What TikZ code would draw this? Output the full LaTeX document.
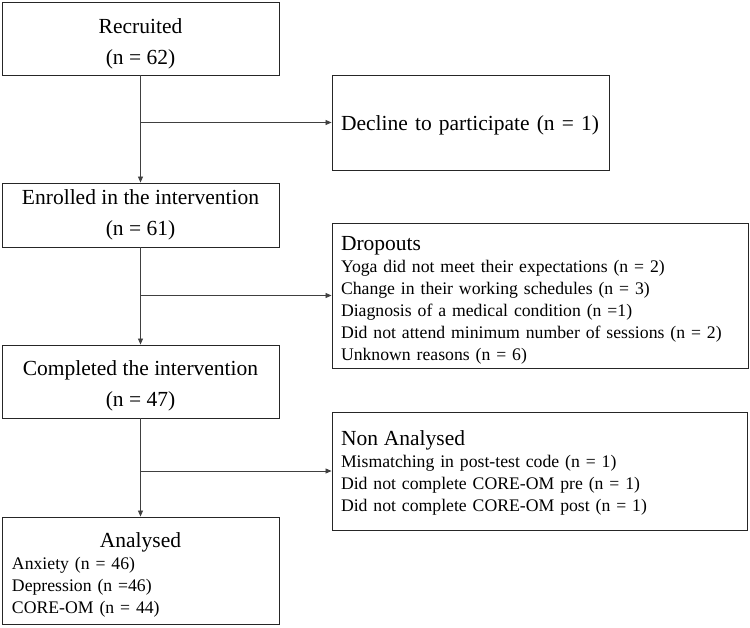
\documentclass[tikz,border=0pt]{standalone}
\usepackage{fontspec}
\setmainfont{Liberation Serif}
\usetikzlibrary{arrows.meta}
\newcommand{\bigtxt}{\fontsize{21.5}{31}\selectfont}
\newcommand{\smalltxt}{\fontsize{17.7}{22}\selectfont}
\newcommand{\toppad}[1]{\rule{0pt}{#1}}
\begin{document}
\begin{tikzpicture}[x=1pt, y=-1pt,
    stage/.style ={draw=black!85, line width=0.9pt, minimum width=277pt, align=center, font=\bigtxt, inner sep=0pt},
    reason/.style ={draw=black!85, line width=0.9pt, align=left, font=\smalltxt, inner xsep=9pt, inner ysep=0pt},
    flow/.style ={draw=black!75, line width=0.8pt, -{Triangle[length=6pt,width=5pt]}}]
   \useasboundingbox (0,0) rectangle (750,627);

   \node[stage, minimum height=73pt] (rec) at (140.5,38.5) {\toppad{25pt}Recruited\\(n = 62)};
   \node[stage, minimum height=64pt] (enr) at (140.5,215) {Enrolled in the intervention\\(n = 61)};
   \node[stage, minimum height=73pt] (com) at (140.5,381.5) {\toppad{24pt}Completed the intervention\\(n = 47)};
   \node[stage, minimum height=107pt, align=left, font=\smalltxt, text width=257pt, inner xsep=10pt] (ana) at (140.5,570.5)
     {\makebox[\linewidth]{\bigtxt\toppad{23pt}Analysed}\\Anxiety (n = 46)\\Depression (n =46)\\CORE-OM (n = 44)};

   \node[reason, minimum height=95pt, text width=259pt, font=\bigtxt] (dec) at (470.5,122.5) {\toppad{20pt}Decline to participate (n = 1)};
   \node[reason, minimum height=145pt, text width=398pt] (drop) at (540,295.5)
     {{\bigtxt\toppad{24pt}Dropouts}\\Yoga did not meet their expectations (n = 2)\\Change in their working schedules (n = 3)\\Diagnosis of a medical condition (n =1)\\Did not attend minimum number of sessions (n = 2)\\Unknown reasons (n = 6)};
   \node[reason, minimum height=118pt, text width=397pt] (non) at (539.5,471)
     {{\bigtxt\toppad{19pt}Non Analysed}\\Mismatching in post-test code (n = 1)\\Did not complete CORE-OM pre (n = 1)\\Did not complete CORE-OM post (n = 1)};

   \coordinate (b1) at (rec.south |- dec.west);
   \coordinate (b2) at (enr.south |- drop.west);
   \coordinate (b3) at (com.south |- non.west);

   \draw[flow] (rec) to (enr);
   \draw[flow] (enr) to (com);
   \draw[flow] (com) to (ana);
   \draw[flow] (b1) to (dec.west);
   \draw[flow] (b2) to (drop.west);
   \draw[flow] (b3) to (non.west);
\end{tikzpicture}
\end{document}
